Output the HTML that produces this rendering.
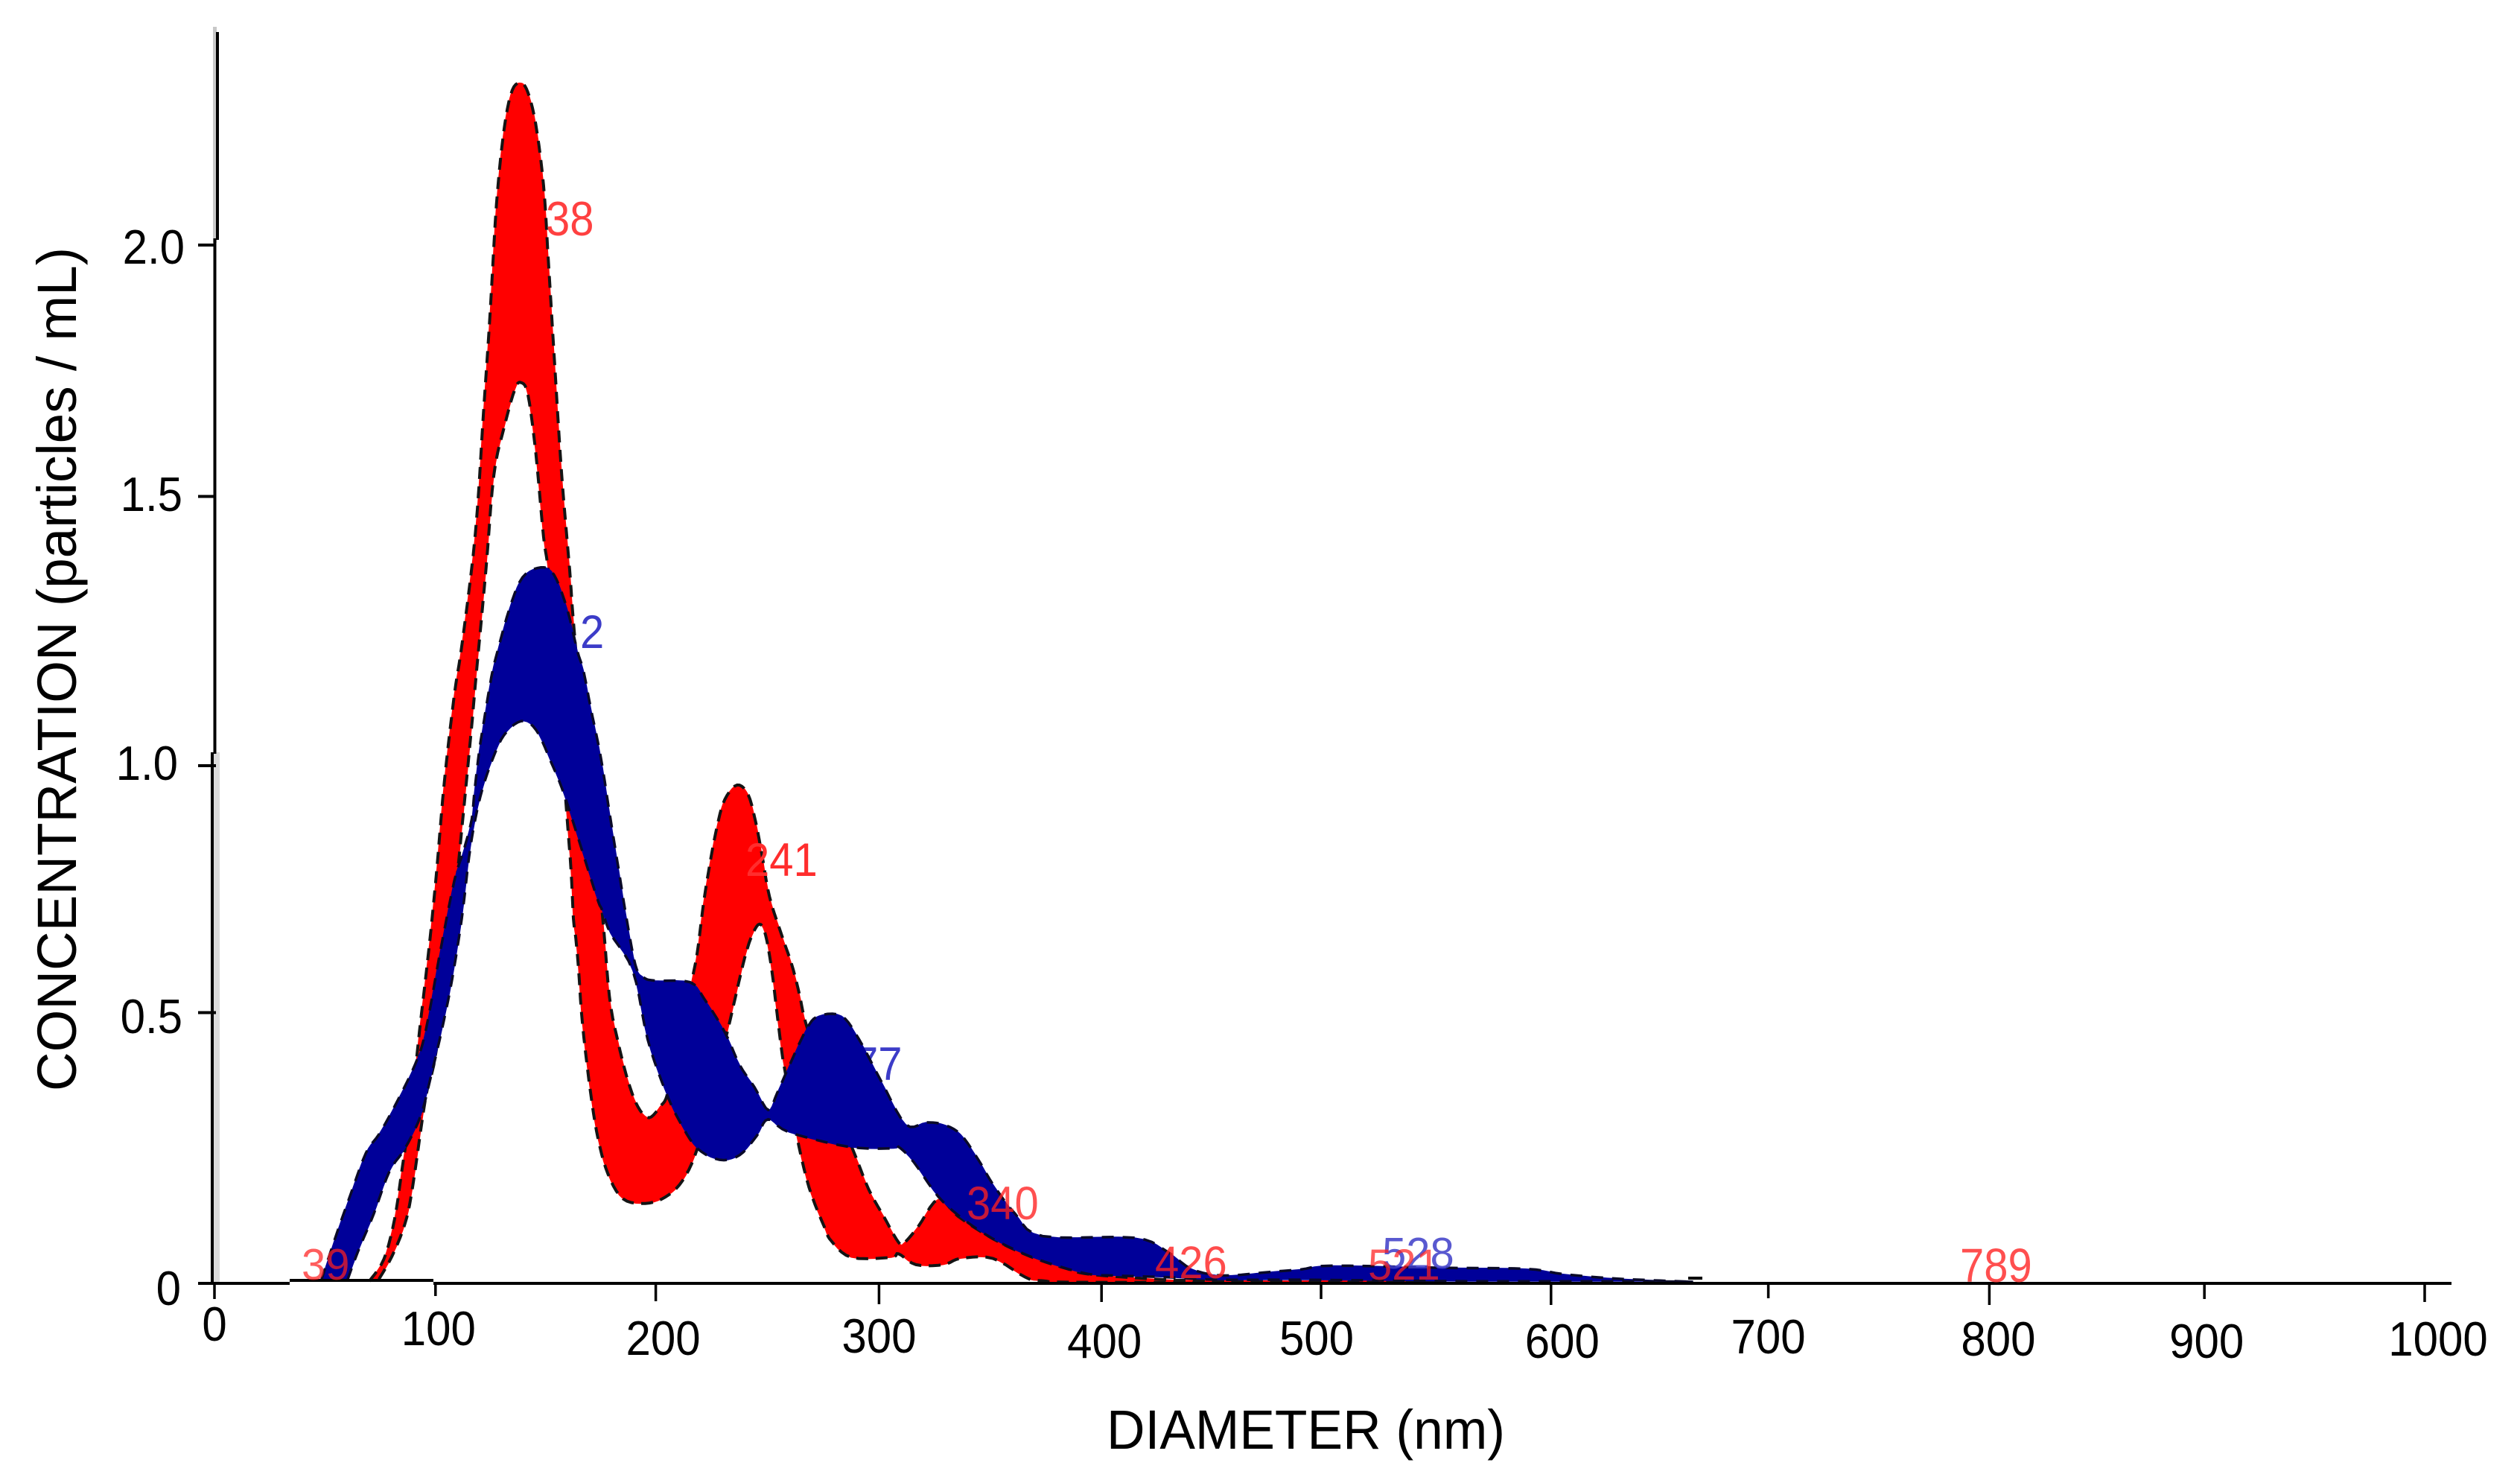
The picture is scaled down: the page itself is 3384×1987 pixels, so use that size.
<!DOCTYPE html>
<html lang="en">
<head>
<meta charset="utf-8">
<title>Particle concentration vs diameter</title>
<style>
html,body{margin:0;padding:0;background:#fff;}
svg{display:block;font-family:"Liberation Sans",Arial,sans-serif;}
</style>
</head>
<body>
<svg id="chart" xmlns="http://www.w3.org/2000/svg" width="3384" height="1987" viewBox="0 0 3384 1987">
  <rect x="0" y="0" width="3384" height="1987" fill="#ffffff"/>
  <g id="shadow-layer">
    <rect x="287" y="1010" width="8" height="713" fill="#dcdcdc"/>
    <rect x="286" y="36" width="5" height="290" fill="#c8c8c8"/>
  </g>
  <g id="red-layer"></g>
  <g id="under-labels" font-size="58">
    <text transform="translate(1001,1176) scale(1,1.08)" fill="#ff2d2d">241</text>
    <text transform="translate(1147,1450) scale(1,1.08)" fill="#3c3cc8">77</text>
    <text transform="translate(779,870) scale(1,1.08)" fill="#3c3cc8">2</text>
    <text transform="translate(733,316) scale(1,1.12)" fill="#ff4040">38</text>
  </g>
  <g id="blue-layer"></g>
  <g id="axis-layer"></g>
  <g id="over-labels" font-size="58">
    <text transform="translate(405,1718) scale(1,1.02)" fill="#ff1f1f" fill-opacity="0.72">39</text>
    <text transform="translate(1298,1637) scale(1,1.08)" fill="#ff1f1f" fill-opacity="0.78">340</text>
    <text transform="translate(1551,1716) scale(1,1.06)" fill="#ff1f1f" fill-opacity="0.8">426</text>
    <text transform="translate(1856,1703) scale(1,1.02)" fill="#3c3cc8" fill-opacity="0.85">528</text>
    <text transform="translate(1837,1718) scale(1,1)" fill="#ff1f1f" fill-opacity="0.72">521</text>
    <text transform="translate(2632,1721) scale(1,1.1)" fill="#ff3030" fill-opacity="0.85">789</text>
  </g>
  <text transform="translate(102,1465) rotate(-90)" font-size="74" fill="#000" textLength="1133" lengthAdjust="spacingAndGlyphs">CONCENTRATION (particles / mL)</text>
  <text x="1486" y="1945" font-size="74" fill="#000" textLength="535" lengthAdjust="spacingAndGlyphs">DIAMETER (nm)</text>
</svg>
<script>
// ---- chart data (diameter in nm, concentration in particles / mL) ----
const redUpperD = [70,76.7,81.5,85,89,92.8,97.3,100.6,104,108.5,112.2,118.1,121.7,124.7,127.6,131.1,134.7,138.7,141.8,145.3,148.9,151.2,154.1,157.1,160.7,162.5,168,175.3,178.7,182.6,187.1,191.6,196.6,201.7,205,210,215.7,218.5,221.3,224.1,227.5,230.9,236.5,241.5,244.9,247.7,251.1,256.7,261.2,264.6,267.9,278,289.3,296,302.8,309.5,312.3,318.5,327.5,336.5,352.2,369,385.9,397.1,430.8,449,496,543.7,553];
const redUpperC = [0.004,0.047,0.124,0.224,0.34,0.487,0.655,0.798,0.966,1.133,1.237,1.447,1.676,1.868,2.079,2.225,2.298,2.312,2.294,2.234,2.115,1.96,1.758,1.557,1.374,1.27,1.0,0.72,0.552,0.465,0.39,0.34,0.319,0.341,0.365,0.46,0.577,0.639,0.733,0.807,0.882,0.932,0.96,0.941,0.888,0.826,0.745,0.67,0.614,0.558,0.496,0.37,0.253,0.181,0.129,0.079,0.079,0.11,0.162,0.129,0.086,0.052,0.028,0.017,0.007,0.006,0.005,0.01,0.004];
const redLowerD = [74.4,80.3,86.2,89.7,95.6,100.4,108.6,111.9,116.3,118,122.8,126.4,131,135.9,138.7,141.8,145.3,148.9,151.2,155.5,159,161.3,162.4,163.5,164.7,166.5,170.2,173.6,178.1,184.8,194.9,203.9,211.8,218.5,225,232,235.4,239.9,243.2,246.6,249.4,252.2,254.5,256.7,258.4,263.4,269,275.8,279.2,288.2,306.2,309.5,317.4,329.8,337.6,352.2,366.8,374.7,400,553];
const redLowerC = [0.008,0.052,0.115,0.187,0.359,0.45,0.739,0.875,1.07,1.152,1.374,1.557,1.648,1.722,1.735,1.712,1.603,1.438,1.365,1.15,0.927,0.798,0.703,0.664,0.607,0.5,0.366,0.278,0.21,0.163,0.154,0.166,0.198,0.26,0.37,0.484,0.546,0.627,0.67,0.692,0.67,0.602,0.521,0.446,0.403,0.285,0.185,0.11,0.081,0.05,0.05,0.057,0.036,0.036,0.048,0.048,0.012,0.005,0.002,0.002];
const blueUpperD = [48.4,55.4,61.4,68.5,74.4,81.5,90.9,95.6,101.8,108.5,112.9,116.4,117.5,119.7,122,124.2,125.9,127.6,133.5,139.4,147.7,153.6,159.5,164.2,166.9,170.2,174.8,179.2,183.7,186,190.4,194,199.4,215.2,221.9,230.9,237.6,244.3,250.5,254.5,259,267.9,273.5,283.7,291.5,301.6,312.8,321.9,329.8,337.6,345.5,352.2,362.3,374.7,416.2,430.8,442,456.2,477.5,491.7,505.9,555.5,593.3,610,631,650,669];
const blueUpperC = [0.007,0.097,0.169,0.251,0.287,0.341,0.423,0.487,0.631,0.775,0.836,0.894,0.941,1.023,1.085,1.142,1.181,1.21,1.3,1.36,1.379,1.365,1.3,1.218,1.181,1.109,1.013,0.894,0.775,0.714,0.614,0.59,0.583,0.58,0.546,0.484,0.421,0.378,0.334,0.366,0.409,0.49,0.515,0.515,0.471,0.39,0.306,0.31,0.306,0.287,0.239,0.191,0.134,0.091,0.088,0.062,0.028,0.015,0.022,0.027,0.034,0.03,0.028,0.018,0.01,0.006,0.003];
const blueLowerD = [60.2,64.9,72,79.1,86.2,93.3,98,102.8,107.4,111.9,115.2,118,120.9,125.3,131,138.8,145.5,152.3,159,172.5,175.3,179.2,189.3,196,203.9,210.7,218.5,228.6,237.6,245.5,250.5,260,287,307.2,309.5,316.3,327.5,338.7,352.2,369,385.9,397.1,406.6,430,453.9,487,543.7,567,638,669];
const blueLowerC = [0.007,0.061,0.133,0.215,0.26,0.323,0.4,0.487,0.583,0.703,0.822,0.894,0.947,1.004,1.056,1.083,1.066,1.004,0.932,0.75,0.72,0.674,0.602,0.47,0.372,0.31,0.26,0.238,0.247,0.285,0.316,0.291,0.263,0.26,0.263,0.234,0.167,0.124,0.086,0.052,0.028,0.017,0.015,0.012,0.007,0.007,0.005,0.004,0.004,0.003];
const xTickValues = [0,100,200,300,400,500,600,700,800,900,1000];
const xTickLabels = ["0","100","200","300","400","500","600","700","800","900","1000"];
const yTickValues = [0,0.5,1,1.5,2];
const yTickLabels = ["0","0.5","1.0","1.5","2.0"];

// ---- axis functions ----
function x(d){ return 288 + 2.968 * d; }
function y(c){ return 1723 - 697 * c; }

// ---- layout nudges reproducing the slightly uneven source artwork ----
const layout = {
  xTickNudge:[0,0,-1,2,4,2,14,9,9,1,0],
  xTickLen:[21,17,24,28,25,21,29,20,29,21,25],
  xLabelNudge:[0,4,9,2,8,-4,29,9,21,4,18],
  xLabelBase:[1800,1806,1819,1816,1823,1819,1823,1817,1820,1823,1820],
  yTickNudge:[0,-15,2,-11,0],
  yLabelEnd:[243,245,239,245,248],
  yLabelBase:[1752,1387,1047,686,354]
};

const NS = "http://www.w3.org/2000/svg";
function make(tag, attrs, parent){
  const el = document.createElementNS(NS, tag);
  for (const k in attrs) el.setAttribute(k, attrs[k]);
  parent.appendChild(el);
  return el;
}
// Catmull-Rom sampling through the data points, in pixel space
function curve(ds, cs){
  const p = ds.map((d,i)=>[x(d), y(cs[i])]);
  const out = [];
  for (let i=0;i<p.length-1;i++){
    const p0=p[Math.max(0,i-1)], p1=p[i], p2=p[i+1], p3=p[Math.min(p.length-1,i+2)];
    for (let s=0;s<5;s++){
      const t=s/5, t2=t*t, t3=t2*t;
      const f=(a,b,c,e)=>0.5*(2*b+(c-a)*t+(2*a-5*b+4*c-e)*t2+(3*b-a-3*c+e)*t3);
      out.push([f(p0[0],p1[0],p2[0],p3[0]), Math.min(1723,f(p0[1],p1[1],p2[1],p3[1]))]);
    }
  }
  out.push(p[p.length-1]);
  return out;
}
function pathOf(pts){
  return "M" + pts.map(q=>q[0].toFixed(1)+" "+q[1].toFixed(1)).join("L");
}

const redLayer = document.getElementById("red-layer");
const blueLayer = document.getElementById("blue-layer");
const axisLayer = document.getElementById("axis-layer");

const redU = curve(redUpperD, redUpperC);
const redL = curve(redLowerD, redLowerC);
const blueU = curve(blueUpperD, blueUpperC);
const blueL = curve(blueLowerD, blueLowerC);

const redBand = make("path", {d: pathOf(redU.concat(redL.slice().reverse()))+"Z", fill:"#ff0000", stroke:"#ff0000", "stroke-width":1}, redLayer);



const redUpperEdge = make("path", {d: pathOf(redU), fill:"none", stroke:"#141414", "stroke-width":4, "stroke-dasharray":"16 10"}, redLayer);



const redLowerEdge = make("path", {d: pathOf(redL), fill:"none", stroke:"#141414", "stroke-width":4, "stroke-dasharray":"16 10"}, redLayer);



const blueBand = make("path", {d: pathOf(blueU.concat(blueL.slice().reverse()))+"Z", fill:"#000099", stroke:"#000099", "stroke-width":1}, blueLayer);



const blueUpperEdge = make("path", {d: pathOf(blueU), fill:"none", stroke:"#0a0a28", "stroke-width":3.5, "stroke-dasharray":"16 12"}, blueLayer);



const blueLowerEdge = make("path", {d: pathOf(blueL), fill:"none", stroke:"#0a0a28", "stroke-width":3.5, "stroke-dasharray":"16 12"}, blueLayer);



// ---- axes ----
const ySegA = make("line", {x1:292, y1:43, x2:292, y2:322, stroke:"#000", "stroke-width":4}, axisLayer);


const ySegB = make("line", {x1:288.5, y1:320, x2:288.5, y2:1012, stroke:"#000", "stroke-width":4}, axisLayer);


const ySegC = make("line", {x1:285, y1:1010, x2:285, y2:1725, stroke:"#000", "stroke-width":4}, axisLayer);



const xSegA = make("line", {x1:272, y1:1723, x2:389, y2:1723, stroke:"#000", "stroke-width":4}, axisLayer);


const xSegB = make("line", {x1:389, y1:1719, x2:582, y2:1719, stroke:"#000", "stroke-width":4}, axisLayer);


const xSegC = make("line", {x1:582, y1:1723, x2:3292, y2:1723, stroke:"#000", "stroke-width":4}, axisLayer);


const strayDash = make("line", {x1:2267, y1:1716, x2:2286, y2:1716, stroke:"#000", "stroke-width":4}, axisLayer);



xTickValues.forEach((v,i)=>{
  const px = x(v) + layout.xTickNudge[i];
  const tick = make("line", {x1:px, y1:1723, x2:px, y2:1723+layout.xTickLen[i], stroke:"#000", "stroke-width":3.5}, axisLayer);
  
  
  const label = make("text", {transform:"translate("+(x(v)+layout.xLabelNudge[i])+","+layout.xLabelBase[i]+") scale(1,1.08)", "text-anchor":"middle", "font-size":60, fill:"#000"}, axisLayer);
  label.textContent = xTickLabels[i];
  
  
});

yTickValues.forEach((v,i)=>{
  const py = y(v) + layout.yTickNudge[i];
  const tick = make("line", {x1:266, y1:py, x2:290, y2:py, stroke:"#000", "stroke-width":4}, axisLayer);
  
  
  const label = make("text", {transform:"translate("+layout.yLabelEnd[i]+","+layout.yLabelBase[i]+") scale(1,1.08)", "text-anchor":"end", "font-size":60, fill:"#000"}, axisLayer);
  label.textContent = yTickLabels[i];
  
  
});
</script>
</body>
</html>
